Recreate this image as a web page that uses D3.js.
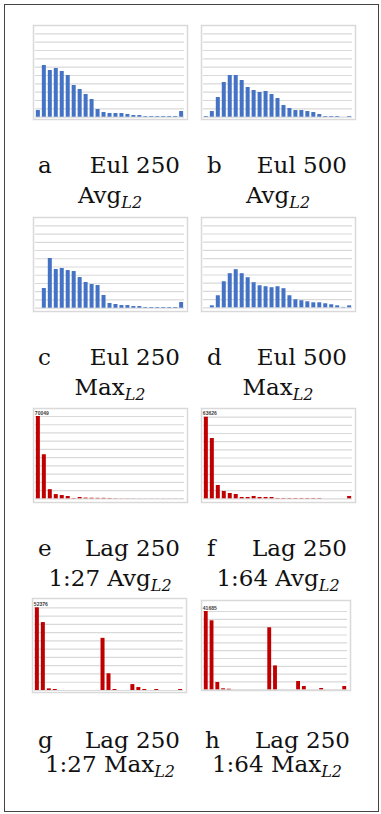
<!DOCTYPE html>
<html>
<head>
<meta charset="utf-8">
<script src="https://cdn.jsdelivr.net/npm/d3@7"></script>
<style>
  html, body { margin: 0; padding: 0; background: #fff; }
  svg { display: block; }
</style>
</head>
<body>
<svg id="fig" width="381" height="814"></svg>
<script>
// Histogram bins (25 per panel)
const bins = d3.range(1, 26);

// Eulerian runs: bar heights in gridline units (10 gridlines per panel)
const eul250Avg = [0.8, 6.2, 5.6, 5.84, 5.48, 5.0, 3.8, 3.32, 2.72, 2.12, 0.92, 0.56, 0.44, 0.44, 0.44, 0.32, 0.2, 0.2, 0.08, 0.08, 0.08, 0.08, 0.08, 0.08, 0.68];
const eul500Avg = [0.08, 0.68, 2.36, 4.16, 5.0, 5.0, 4.4, 3.56, 3.2, 2.96, 3.08, 2.72, 2.24, 1.4, 1.04, 0.8, 0.8, 0.68, 0.56, 0.32, 0.08, 0.08, 0.08, 0, 0.08];
const eul250Max = [0, 2.39, 6.03, 4.7, 4.82, 4.57, 4.45, 3.72, 3.12, 2.87, 2.75, 1.54, 0.57, 0.45, 0.32, 0.32, 0.2, 0.2, 0.08, 0.08, 0.08, 0.08, 0.08, 0.08, 0.69];
const eul500Max = [0, 0.24, 1.47, 3.18, 4.16, 4.65, 4.16, 3.67, 3.06, 2.69, 2.57, 2.45, 2.57, 2.33, 1.47, 0.98, 0.86, 0.73, 0.61, 0.61, 0.49, 0.37, 0.24, 0.05, 0.24];

// Lagrangian runs: counts per bin
const lag27Avg = [70049, 37500, 7780, 3600, 2780, 1950, 280, 1100, 600, 500, 400, 400, 300, 150, 100, 100, 80, 60, 60, 60, 60, 60, 60, 60, 60];
const lag64Avg = [63626, 47000, 10390, 5710, 4150, 3380, 1040, 1040, 1820, 1040, 1040, 1040, 260, 260, 260, 260, 260, 260, 260, 260, 0, 0, 0, 0, 1820];
const lag27Max = [52376, 43020, 1040, 620, 0, 0, 0, 0, 0, 0, 0, 33040, 10600, 620, 0, 0, 3740, 1870, 620, 0, 620, 0, 0, 0, 620];
const lag64Max = [41685, 36730, 3885, 530, 300, 0, 0, 0, 0, 0, 0, 33020, 12715, 0, 0, 0, 4415, 1766, 0, 0, 706, 0, 0, 0, 1766];

// Caption text
const letters = ["a", "b", "c", "d", "e", "f", "g", "h"];
const titles = ["Eul 250", "Eul 500", "Eul 250", "Eul 500", "Lag 250", "Lag 250", "Lag 250", "Lag 250"];
const prefixes = ["", "", "", "", "1:27 ", "1:64 ", "1:27 ", "1:64 "];
const stats = ["Avg", "Avg", "Max", "Max", "Avg", "Avg", "Max", "Max"];
const series = [eul250Avg, eul500Avg, eul250Max, eul500Max, lag27Avg, lag64Avg, lag27Max, lag64Max];

const BLUE = "#4472c4", RED = "#c00000", GRID = "#d9d9d9";

// Panel frames, plot areas and caption positions
const layout = [
  { frame: [33, 25, 187, 119], plot: [35, 33.3, 184, 116.7], cap: [38, 180, 110, 173, 203] },
  { frame: [201, 25, 355, 119], plot: [203, 33.3, 352, 116.7], cap: [207, 347, 278, 173, 203] },
  { frame: [33, 217, 187, 311], plot: [35, 225.3, 184, 307.7], cap: [38, 180, 110, 365, 395] },
  { frame: [201, 217, 355, 311], plot: [203, 225.3, 352, 307.3], cap: [207, 347, 278, 365, 395] },
  { frame: [33, 408, 187, 502], plot: [35, 416, 184, 498.3], cap: [38, 180, 110, 556, 586] },
  { frame: [201, 408, 355, 502], plot: [203, 416.7, 352, 498.3], cap: [207, 347, 278, 556, 586] },
  { frame: [32, 598, 186, 692], plot: [34, 607.3, 183, 690], cap: [38, 180, 110, 748, 772] },
  { frame: [201, 600, 350, 690], plot: [203, 611, 347, 689.3], cap: [205, 350, 277, 748, 772] }
];

const svg = d3.select("#fig");

// Outer box
svg.append("rect")
  .attr("x", 4.5).attr("y", 4.5)
  .attr("width", 374).attr("height", 807)
  .attr("fill", "none").attr("stroke", "#444").attr("stroke-width", 1);

series.forEach((vals, i) => {
  const L = layout[i];
  const lag = i >= 4;
  const [fx0, fy0, fx1, fy1] = L.frame;
  const [px0, py0, px1, py1] = L.plot;
  const g = svg.append("g");

  g.append("rect")
    .attr("x", fx0 + 0.5).attr("y", fy0 + 0.5)
    .attr("width", fx1 - fx0).attr("height", fy1 - fy0)
    .attr("fill", "#fff").attr("stroke", GRID).attr("stroke-width", 1.5);

  const x = d3.scaleBand().domain(bins).range([px0, px1]).paddingInner(0.33).paddingOuter(0.145);
  const yMax = lag ? d3.max(vals) : 10;
  const y = d3.scaleLinear().domain([0, yMax]).range([py1, py0]);

  // Horizontal gridlines through an axis with full-width ticks
  const gridAxis = d3.axisLeft(y).tickValues(d3.range(0, 11).map(k => k * yMax / 10))
    .tickSize(-(px1 - px0)).tickFormat("");
  const ga = g.append("g").attr("transform", `translate(${px0},0)`).call(gridAxis);
  ga.select(".domain").remove();
  ga.selectAll(".tick line").attr("stroke", GRID).attr("stroke-width", 1.2);

  g.selectAll("rect.bar").data(vals).join("rect")
    .attr("class", "bar")
    .attr("x", (d, k) => x(bins[k]))
    .attr("width", x.bandwidth())
    .attr("y", d => y(d))
    .attr("height", d => py1 - y(d))
    .attr("fill", lag ? RED : BLUE);

  if (lag) {
    const peak = vals[0];
    g.append("text")
      .attr("x", x(bins[0]) - 1).attr("y", y(peak) - 1.5)
      .attr("font-family", "Liberation Sans, sans-serif")
      .attr("font-size", 5).attr("font-weight", "bold").attr("fill", "#404040")
      .text(String(peak));
  }

  // Caption
  const [lx, rx, cx, b1, b2] = L.cap;
  const font = "DejaVu Serif, serif";
  g.append("text").attr("x", lx).attr("y", b1)
    .attr("font-family", font).attr("font-size", 23).attr("fill", "#111")
    .text(letters[i]);
  g.append("text").attr("x", rx).attr("y", b1).attr("text-anchor", "end")
    .attr("font-family", font).attr("font-size", 23).attr("fill", "#111")
    .text(titles[i]);
  const t2 = g.append("text").attr("x", cx).attr("y", b2).attr("text-anchor", "middle")
    .attr("font-family", font).attr("font-size", 23).attr("fill", "#111");
  t2.append("tspan").text(prefixes[i] + stats[i]);
  t2.append("tspan").attr("font-size", 16).attr("font-style", "italic").attr("dy", 5).text("L2");
});
</script>
</body>
</html>
